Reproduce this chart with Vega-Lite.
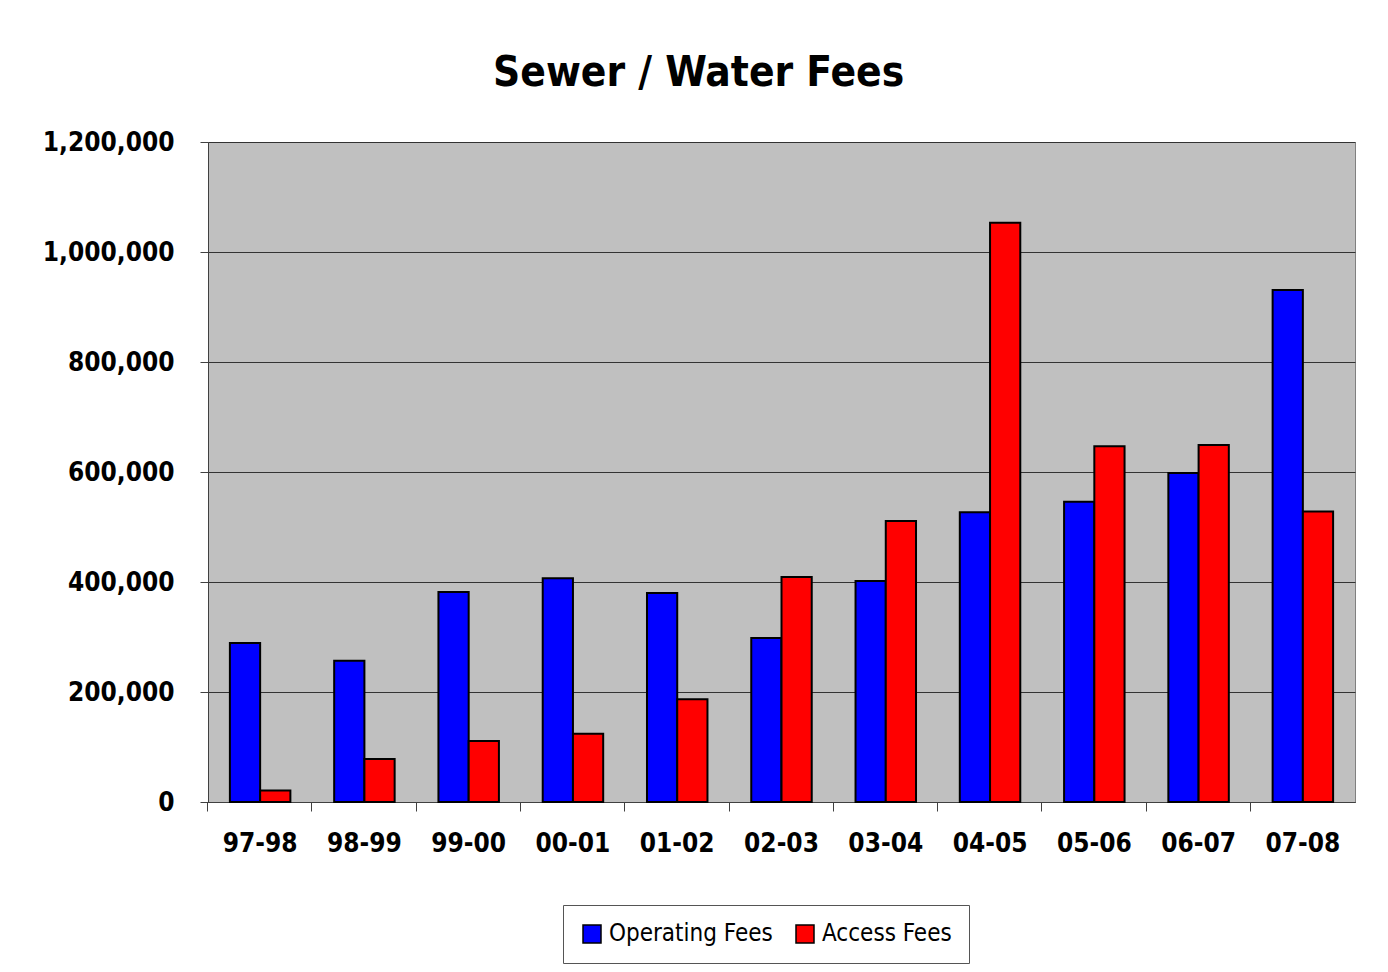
{
  "$schema": "https://vega.github.io/schema/vega-lite/v6.json",
  "autosize": {"type": "none"},
  "width": 1147,
  "height": 660,
  "padding": {"left": 208, "top": 142, "right": 33, "bottom": 170},
  "background": "white",
  "title": {
    "text": "Sewer / Water Fees",
    "anchor": "middle",
    "frame": "bounds",
    "font": "DejaVu Sans Condensed",
    "fontSize": 42,
    "fontWeight": "bold",
    "color": "black",
    "offset": 34
  },
  "data": {
    "values": [
      {"year": "97-98", "series": "Operating Fees", "value": 289000},
      {"year": "97-98", "series": "Access Fees", "value": 21000},
      {"year": "98-99", "series": "Operating Fees", "value": 257000},
      {"year": "98-99", "series": "Access Fees", "value": 78000},
      {"year": "99-00", "series": "Operating Fees", "value": 382000},
      {"year": "99-00", "series": "Access Fees", "value": 111000},
      {"year": "00-01", "series": "Operating Fees", "value": 407000},
      {"year": "00-01", "series": "Access Fees", "value": 124000},
      {"year": "01-02", "series": "Operating Fees", "value": 380000},
      {"year": "01-02", "series": "Access Fees", "value": 187000},
      {"year": "02-03", "series": "Operating Fees", "value": 298000},
      {"year": "02-03", "series": "Access Fees", "value": 409000},
      {"year": "03-04", "series": "Operating Fees", "value": 402000},
      {"year": "03-04", "series": "Access Fees", "value": 511000},
      {"year": "04-05", "series": "Operating Fees", "value": 527000},
      {"year": "04-05", "series": "Access Fees", "value": 1053000},
      {"year": "05-06", "series": "Operating Fees", "value": 546000},
      {"year": "05-06", "series": "Access Fees", "value": 647000},
      {"year": "06-07", "series": "Operating Fees", "value": 598000},
      {"year": "06-07", "series": "Access Fees", "value": 649000},
      {"year": "07-08", "series": "Operating Fees", "value": 931000},
      {"year": "07-08", "series": "Access Fees", "value": 528000}
    ]
  },
  "mark": {"type": "bar", "stroke": "black", "strokeWidth": 2},
  "encoding": {
    "x": {
      "field": "year",
      "type": "nominal",
      "sort": null,
      "scale": {"paddingInner": 0.42, "paddingOuter": 0.21},
      "axis": {
        "title": null,
        "labelAngle": 0,
        "labelFont": "DejaVu Sans Condensed",
        "labelFontSize": 26,
        "labelFontWeight": "bold",
        "labelColor": "black",
        "labelPadding": 19,
        "bandPosition": -0.367,
        "labelOffset": 0,
        "tickSize": 9,
        "tickColor": "#404040",
        "domainColor": "#404040",
        "grid": false
      }
    },
    "xOffset": {"field": "series", "sort": ["Operating Fees", "Access Fees"]},
    "y": {
      "field": "value",
      "type": "quantitative",
      "scale": {"domain": [0, 1200000], "nice": false},
      "axis": {
        "title": null,
        "values": [0, 200000, 400000, 600000, 800000, 1000000, 1200000],
        "format": ",d",
        "labelFont": "DejaVu Sans Condensed",
        "labelFontSize": 26,
        "labelFontWeight": "bold",
        "labelColor": "black",
        "labelPadding": 26,
        "tickSize": 8,
        "tickColor": "#404040",
        "domainColor": "#404040",
        "gridColor": "#333333",
        "gridWidth": 1
      }
    },
    "color": {
      "field": "series",
      "type": "nominal",
      "scale": {"domain": ["Operating Fees", "Access Fees"], "range": ["#0000FF", "#FF0000"]},
      "legend": {
        "title": null,
        "orient": "none",
        "legendX": 355,
        "legendY": 763,
        "direction": "horizontal",
        "padding": 17,
        "strokeColor": "#555555",
        "fillColor": "white",
        "symbolType": "square",
        "symbolSize": 324,
        "symbolStrokeColor": "black",
        "symbolStrokeWidth": 1.5,
        "labelFont": "DejaVu Sans Condensed",
        "labelFontSize": 24,
        "labelColor": "black",
        "labelLimit": 400,
        "columnPadding": 20,
        "labelOffset": 5
      }
    }
  },
  "config": {
    "view": {"fill": "#C0C0C0", "stroke": "#808080"}
  }
}
